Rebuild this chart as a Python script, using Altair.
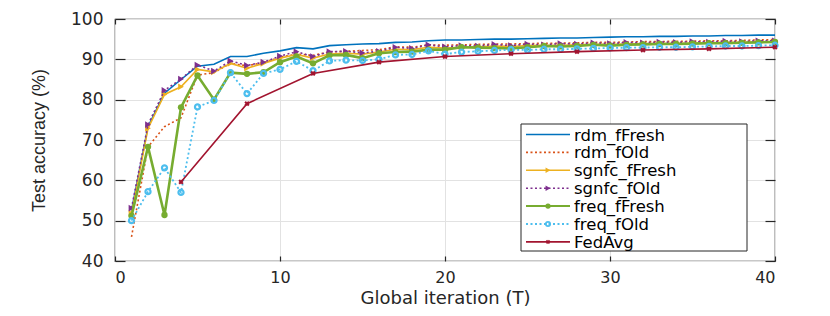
import altair as alt
import pandas as pd

T = list(range(1, 41))

rdm_fFresh = [52.5, 73.3, 81.6, 85.0, 88.3, 88.8, 90.7, 90.7, 91.5, 92.1,
              92.9, 92.6, 93.4, 93.6, 93.8, 93.9, 94.2, 94.3, 94.6, 94.8,
              94.8, 94.9, 95.0, 95.0, 95.1, 95.2, 95.3, 95.3, 95.4, 95.5,
              95.6, 95.6, 95.7, 95.7, 95.8, 95.8, 95.9, 95.9, 96.0, 96.0]
rdm_fOld = [46.0, 68.3, 73.3, 75.5, 86.1, 86.7, 89.0, 88.4, 89.2, 90.5,
            91.3, 91.0, 91.8, 92.0, 92.2, 92.4, 93.1, 93.0, 93.6, 93.5,
            93.6, 93.7, 93.8, 93.8, 93.9, 94.0, 94.0, 94.1, 94.2, 94.2,
            94.3, 94.4, 94.4, 94.5, 94.5, 94.6, 94.6, 94.7, 94.8, 94.9]
sgnfc_fFresh = [51.8, 72.9, 81.3, 83.2, 87.5, 86.9, 89.0, 87.8, 89.0, 90.3,
                91.2, 90.3, 91.3, 91.5, 91.3, 91.8, 92.5, 92.4, 93.0, 92.8,
                93.0, 93.1, 93.3, 93.2, 93.4, 93.5, 93.5, 93.6, 93.7, 93.7,
                93.8, 93.9, 93.9, 94.0, 94.0, 94.1, 94.2, 94.2, 94.3, 94.4]
sgnfc_fOld = [53.1, 73.8, 82.3, 85.1, 88.6, 87.1, 89.6, 88.5, 89.3, 90.8,
              91.9, 90.7, 91.9, 92.0, 91.6, 92.0, 93.0, 92.7, 93.6, 93.1,
              93.4, 93.3, 93.7, 93.4, 93.8, 93.6, 93.9, 93.8, 94.1, 93.9,
              94.2, 94.1, 94.3, 94.2, 94.4, 94.3, 94.5, 94.4, 94.6, 94.6]
freq_fFresh = [51.2, 68.3, 51.4, 78.1, 86.0, 80.0, 86.7, 86.4, 86.8, 89.3,
               90.7, 89.0, 91.0, 91.1, 90.3, 91.5, 91.8, 91.9, 92.4, 92.4,
               93.0, 92.9, 92.8, 92.7, 93.0, 93.3, 93.2, 93.3, 93.6, 93.4,
               93.6, 93.7, 93.8, 93.8, 93.9, 94.0, 94.0, 94.1, 94.2, 94.3]
freq_fOld = [50.0, 57.2, 63.1, 57.0, 78.2, 79.8, 86.7, 81.5, 86.5, 87.5,
             89.5, 87.2, 89.6, 89.8, 89.7, 90.0, 91.1, 91.2, 92.1, 91.3,
             91.8, 92.0, 92.2, 92.4, 92.3, 92.5, 92.5, 92.6, 92.7, 92.8,
             92.9, 92.9, 93.0, 93.0, 93.1, 93.2, 93.3, 93.3, 93.4, 93.5]
T_fedavg = [4, 8, 12, 16, 20, 24, 28, 32, 36, 40]
FedAvg = [59.6, 79.0, 86.5, 89.3, 90.7, 91.4, 91.9, 92.3, 92.6, 93.0]

series_names = ["rdm_fFresh", "rdm_fOld", "sgnfc_fFresh", "sgnfc_fOld",
                "freq_fFresh", "freq_fOld", "FedAvg"]
series_x = [T, T, T, T, T, T, T_fedavg]
series_y = [rdm_fFresh, rdm_fOld, sgnfc_fFresh, sgnfc_fOld, freq_fFresh, freq_fOld, FedAvg]

x_ticks = [0, 10, 20, 30, 40]
y_ticks = [40, 50, 60, 70, 80, 90, 100]

# styles
colors = ["#0072BD", "#D95319", "#EDB120", "#7E2F8E", "#77AC30", "#4DBEEE", "#A2142F"]
dashes = [None, [2, 2.5], None, [2, 2.5], None, [2, 2.5], None]
widths = [1.6, 1.6, 1.6, 1.6, 2.6, 1.8, 1.6]
shapes = [None, None, "triangle-right", "triangle-right", "circle", "circle", "cross"]
filled = [True, True, True, True, True, False, True]
sizes = [0, 0, 45, 45, 40, 26, 28]
angles = [0, 0, 0, 0, 0, 0, 45]

TEXT_FONT = "DejaVu Sans"
DARK = "#262626"

x_axis = alt.Axis(values=x_ticks, title="Global iteration (T)", grid=True,
                  tickSize=5, offset=-5, domain=False, labelPadding=8,
                  titlePadding=4, titleFontSize=18, labelFontSize=16)
y_axis = alt.Axis(values=y_ticks, title="Test accuracy (%)", grid=True,
                  tickSize=10, offset=-10, domain=False, labelPadding=12,
                  titlePadding=22, titleFontSize=18, labelFontSize=17,
                  titleFont="Liberation Sans")
x_scale = alt.Scale(domain=[0, 40], nice=False)
y_scale = alt.Scale(domain=[40, 100], nice=False, zero=False)

layers = []
first = True
for name, xs, ys, c, d, w, shp, fl, sz, ang in zip(series_names, series_x, series_y, colors,
                                                  dashes, widths, shapes, filled, sizes, angles):
    df = pd.DataFrame({"T": xs, "acc": ys, "series": name})
    xe = alt.X("T:Q", scale=x_scale, axis=x_axis if first else None)
    ye = alt.Y("acc:Q", scale=y_scale, axis=y_axis if first else None)
    first = False
    line_kw = dict(color=c, strokeWidth=w, clip=True)
    if d is not None:
        line_kw["strokeDash"] = d
    layers.append(alt.Chart(df).mark_line(**line_kw).encode(x=xe, y=ye))
    if shp is not None:
        pkw = dict(shape=shp, size=sz, filled=fl, color=c, opacity=1)
        if not fl:
            pkw["strokeWidth"] = 2.2
        if ang:
            pkw["angle"] = ang
        layers.append(alt.Chart(df).mark_point(**pkw).encode(
            x=alt.X("T:Q", scale=x_scale, axis=None),
            y=alt.Y("acc:Q", scale=y_scale, axis=None)))

# frame ticks on top and right
frame_df = pd.DataFrame({"T": T, "acc": freq_fFresh})
layers.append(alt.Chart(frame_df).mark_point(opacity=0).encode(
    x=alt.X("T:Q", scale=x_scale,
            axis=alt.Axis(orient="top", values=x_ticks, labels=False, title=None, grid=False,
                          tickSize=5, offset=-5, domain=False)),
    y=alt.Y("acc:Q", scale=y_scale,
            axis=alt.Axis(orient="right", values=y_ticks, labels=False, title=None, grid=False,
                          tickSize=10, offset=-10, domain=False))))

# legend (drawn as marks)
LEG_X0, LEG_X1, LEG_Y0, LEG_Y1 = 406, 632, 105, 232
ROW0, ROW_STEP = 115.5, 17.9
SYM_X0, SYM_X1, TXT_X = 411, 455, 459
layers.append(alt.Chart(pd.DataFrame({"k": [0]})).mark_rect(
    fill="white", stroke=DARK, strokeWidth=1).encode(
    x=alt.value(LEG_X0), x2=alt.value(LEG_X1), y=alt.value(LEG_Y0), y2=alt.value(LEG_Y1)))
for i, (name, c, d, w, shp, fl, sz, ang) in enumerate(zip(series_names, colors, dashes, widths,
                                                         shapes, filled, sizes, angles)):
    ldf = pd.DataFrame({"name": [name]})
    yy = ROW0 + i * ROW_STEP
    rkw = dict(color=c, strokeWidth=min(w, 2.0))
    if d is not None:
        rkw["strokeDash"] = d
    layers.append(alt.Chart(ldf).mark_rule(**rkw).encode(
        x=alt.value(SYM_X0), x2=alt.value(SYM_X1), y=alt.value(yy)))
    if shp is not None:
        pkw = dict(shape=shp, size=sz * 0.7, filled=fl, color=c, opacity=1)
        if not fl:
            pkw["strokeWidth"] = 1.8
        if ang:
            pkw["angle"] = ang
        layers.append(alt.Chart(ldf).mark_point(**pkw).encode(
            x=alt.value((SYM_X0 + SYM_X1) / 2), y=alt.value(yy)))
    layers.append(alt.Chart(ldf).mark_text(
        align="left", baseline="middle", font=TEXT_FONT, fontSize=16.5, color="black").encode(
        x=alt.value(TXT_X), y=alt.value(yy + 1), text="name:N"))

chart = alt.layer(*layers).resolve_axis(x="independent", y="independent").properties(
    width=660, height=242,
    autosize=alt.AutoSizeParams(type="none"),
    padding={"left": 107, "top": 11, "right": 47, "bottom": 55},
).configure_view(stroke=DARK, strokeWidth=1.2).configure_axis(
    labelFont=TEXT_FONT, titleFont=TEXT_FONT, labelColor=DARK, titleColor=DARK,
    tickColor=DARK, gridColor="#e2e2e2", gridWidth=1, titleFontWeight="normal",
    tickWidth=1.2,
)

chart.save("out.html", embed_options={"renderer": "svg", "actions": False})
